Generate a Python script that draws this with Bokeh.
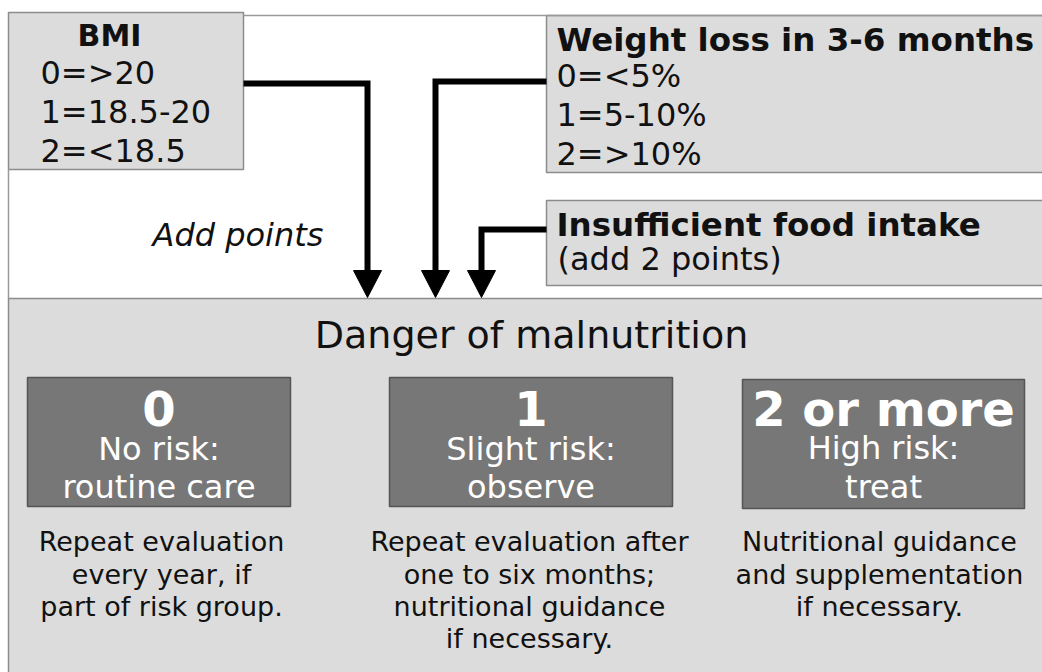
from bokeh.plotting import figure
from bokeh.models import Range1d, ColumnDataSource
from bokeh.embed import file_html
from bokeh.resources import INLINE
from bokeh.core.properties import value

# ---- content ----
bmi_title = "BMI"
bmi_items = ["0=>20", "1=18.5-20", "2=<18.5"]
weight_title = "Weight loss in 3-6 months"
weight_items = ["0=<5%", "1=5-10%", "2=>10%"]
food_title = "Insufficient food intake"
food_note = "(add 2 points)"
add_label = "Add points"
panel_title = "Danger of malnutrition"
risk_scores = ["0", "1", "2 or more"]
risk_line1 = ["No risk:", "Slight risk:", "High risk:"]
risk_line2 = ["routine care", "observe", "treat"]
advice = [
    ["Repeat evaluation", "every year, if", "part of risk group."],
    ["Repeat evaluation after", "one to six months;", "nutritional guidance", "if necessary."],
    ["Nutritional guidance", "and supplementation", "if necessary."],
]

# ---- layout (page pixel coordinates of the reference) ----
W, H = 1042, 672
FONT = "DejaVu Sans"
LIGHT = "#dcdcdc"
LIGHT_EDGE = "#8c8c8c"
DARK = "#777777"
DARK_EDGE = "#555555"
INK = "#111111"
TY = -11  # baseline correction for text placement

p = figure(width=W, height=H, x_range=Range1d(0, W), y_range=Range1d(H, 0),
           output_backend="svg", toolbar_location=None, min_border=0,
           x_axis_location=None, y_axis_location=None)
p.grid.visible = False
p.outline_line_color = None
p.background_fill_color = "white"
p.border_fill_color = "white"

# light boxes: BMI, weight, food, bottom panel
light = dict(left=[8, 546, 546, 8], right=[243, 1060, 1060, 1060],
             top=[12, 15, 200, 298], bottom=[169, 172, 285, 700])
p.quad(source=ColumnDataSource(light), left="left", right="right", top="top", bottom="bottom",
       fill_color=LIGHT, line_color=LIGHT_EDGE, line_width=1.5)

# frame lines around the white area
p.multi_line(xs=[[243, 1060], [8, 8]], ys=[[15, 15], [169, 298]], line_color="#9a9a9a", line_width=1.5)

# dark risk boxes
dark = dict(left=[27, 389, 742], right=[290, 672, 1024], top=[377, 377, 379], bottom=[506, 506, 508])
p.quad(source=ColumnDataSource(dark), left="left", right="right", top="top", bottom="bottom",
       fill_color=DARK, line_color=DARK_EDGE, line_width=1.5)

# arrows
arrow_x = [367, 435, 481]
arrow_start_x = [243, 546, 546]
arrow_start_y = [83, 81, 229]
tip_y = 297
head_h, head_w = 27, 14
p.multi_line(xs=[[sx, ax, ax] for sx, ax in zip(arrow_start_x, arrow_x)],
             ys=[[sy, sy, tip_y - head_h + 2] for sy in arrow_start_y],
             line_color="black", line_width=6, line_join="miter")
p.patches(xs=[[ax - head_w, ax + head_w, ax] for ax in arrow_x],
          ys=[[tip_y - head_h, tip_y - head_h, tip_y] for _ in arrow_x],
          fill_color="black", line_color="black", line_width=1)


def txt(xs, ys, texts, size, style="normal", align="left", color=INK):
    p.text(x=xs, y=[y + TY for y in ys], text=texts, text_font=value(FONT), text_font_size=size,
           text_font_style=style, text_align=align, text_baseline="alphabetic", text_color=color)


# top boxes
txt([109], [46], [bmi_title], "30px", "bold", "center")
txt([40] * 3, [83, 122, 161], bmi_items, "32px")
txt([556], [50], [weight_title], "32.5px", "bold")
txt([556] * 3, [86, 125, 164], weight_items, "32px")
txt([556], [235], [food_title], "32.5px", "bold")
txt([557], [269], [food_note], "32px")
txt([152], [245], [add_label], "32px", "italic")

# bottom panel
txt([531], [345], [panel_title], "38px", "normal", "center")
box_cx = [158.5, 530.5, 883]
txt(box_cx, [419] * 3, risk_scores, "48px", "bold", "center", "white")
txt(box_cx, [459, 459, 458], risk_line1, "32px", "normal", "center", "white")
txt(box_cx, [497] * 3, risk_line2, "32px", "normal", "center", "white")

adv_cx = [161, 529, 879]
adv_base = [552, 584.5, 617, 649]
for cx, lines in zip(adv_cx, advice):
    txt([cx] * len(lines), adv_base[:len(lines)], lines, "27px", "normal", "center")

open("out.html", "w").write(file_html(p, INLINE))
